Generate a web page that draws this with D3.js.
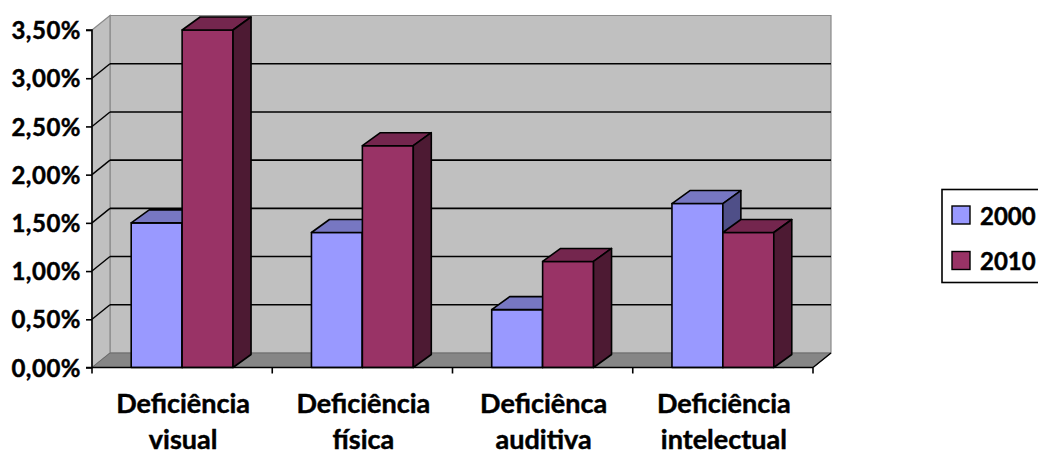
<!DOCTYPE html>
<html>
<head>
<meta charset="utf-8">
<script src="https://cdn.jsdelivr.net/npm/d3@7"></script>
<style>
  html, body { margin: 0; padding: 0; background: #fff; }
  svg { display: block; font-family: Lato, "Open Sans", sans-serif; font-weight: bold; }
  svg text { stroke: #000; stroke-width: 0.45px; paint-order: stroke; }
</style>
</head>
<body>
<svg id="chart" width="1038" height="455"></svg>
<script>
// Data
const categories = ["Deficiência visual", "Deficiência física", "Deficiênca auditiva", "Deficiência intelectual"];
const categoryLines = [["Deficiência", "visual"], ["Deficiência", "física"], ["Deficiênca", "auditiva"], ["Deficiência", "intelectual"]];
const seriesNames = ["2000", "2010"];
const values2000 = [1.5, 1.4, 0.6, 1.7];
const values2010 = [3.5, 2.3, 1.1, 1.4];
const yTicks = [0, 0.5, 1, 1.5, 2, 2.5, 3, 3.5];

const series = [
  { name: seriesNames[0], values: values2000, front: "#9999FF", top: "#7777C2", side: "#4F4F88" },
  { name: seriesNames[1], values: values2010, front: "#993366", top: "#74264E", side: "#4D1A33" }
];

const svg = d3.select("#chart");
const W = 1038, H = 455;
svg.append("rect").attr("width", W).attr("height", H).attr("fill", "#fff");

// Plot geometry (front plane) and 3D depth offsets
const x0 = 92, x1 = 813;
const y = d3.scaleLinear().domain([0, 3.5]).range([367.5, 30]);
const wallDx = 18, wallDy = -14.5;
const barDx = 18, barDy = -13;

const xCat = d3.scaleBand().domain(categories).range([x0, x1]).padding(0);
const xSer = d3.scaleBand().domain(seriesNames).range([0, xCat.bandwidth()]).paddingInner(0).paddingOuter(0.77);

const fmt = d3.formatLocale({ decimal: ",", thousands: ".", grouping: [3], currency: ["R$", ""] }).format(".2f");

const poly = pts => "M" + pts.map(p => p.join(",")).join("L") + "Z";

const g = svg.append("g");

// Back wall
const yTop = y(3.5), yBase = y(0);
g.append("path")
  .attr("d", poly([[x0 + wallDx, yTop + wallDy], [x1 + wallDx, yTop + wallDy], [x1 + wallDx, yBase + wallDy], [x0 + wallDx, yBase + wallDy]]))
  .attr("fill", "#C0C0C0").attr("stroke", "#8a8a8a").attr("stroke-width", 1.2);

// Side wall
g.append("path")
  .attr("d", poly([[x0, yTop], [x0 + wallDx, yTop + wallDy], [x0 + wallDx, yBase + wallDy], [x0, yBase]]))
  .attr("fill", "#C0C0C0").attr("stroke", "#8a8a8a").attr("stroke-width", 1.2);

// Floor
g.append("path")
  .attr("d", poly([[x0, yBase], [x0 + wallDx, yBase + wallDy], [x1 + wallDx, yBase + wallDy], [x1, yBase]]))
  .attr("fill", "#868686").attr("stroke", "#6a6a6a").attr("stroke-width", 1);

// Gridlines on back wall and side wall
const gridTicks = yTicks.filter(t => t > 0 && t < 3.5);
g.selectAll("line.grid-back").data(gridTicks).join("line")
  .attr("class", "grid-back")
  .attr("x1", x0 + wallDx).attr("x2", x1 + wallDx)
  .attr("y1", d => y(d) + wallDy).attr("y2", d => y(d) + wallDy)
  .attr("stroke", "#000").attr("stroke-width", 1.6);
g.selectAll("line.grid-side").data(gridTicks).join("line")
  .attr("class", "grid-side")
  .attr("x1", x0).attr("x2", x0 + wallDx)
  .attr("y1", d => y(d)).attr("y2", d => y(d) + wallDy)
  .attr("stroke", "#000").attr("stroke-width", 1.4);

// Floor right edge
g.append("line")
  .attr("x1", x1).attr("y1", yBase).attr("x2", x1 + wallDx).attr("y2", yBase + wallDy)
  .attr("stroke", "#000").attr("stroke-width", 1.4);

// Bars (drawn left to right so the nearer faces overlap correctly)
const bars = g.append("g");
categories.forEach((cat, i) => {
  series.forEach(s => {
    const v = s.values[i];
    const bx = xCat(cat) + xSer(s.name);
    const bw = xSer.bandwidth();
    const by = y(v);
    const bb = y(0);
    const bg = bars.append("g");
    bg.append("path")
      .attr("d", poly([[bx, by], [bx + bw, by], [bx + bw, bb], [bx, bb]]))
      .attr("fill", s.front);
    bg.append("path")
      .attr("d", poly([[bx, by], [bx + barDx, by + barDy], [bx + bw + barDx, by + barDy], [bx + bw, by]]))
      .attr("fill", s.top);
    bg.append("path")
      .attr("d", poly([[bx + bw, by], [bx + bw + barDx, by + barDy], [bx + bw + barDx, bb + barDy], [bx + bw, bb]]))
      .attr("fill", s.side);
    bg.selectAll("path").attr("stroke", "#000").attr("stroke-width", 1.6).attr("stroke-linejoin", "round");
  });
});

// Value axis
const yAxis = d3.axisLeft(y).tickValues(yTicks).tickSize(6).tickFormat(d => fmt(d) + "%");
const ya = svg.append("g").attr("transform", `translate(${x0},0)`).call(yAxis);
ya.select(".domain").attr("stroke", "#000").attr("stroke-width", 1.6).attr("d", `M-6,${y(3.5)}H0V${y(0)}H-6`);
ya.selectAll(".tick line").attr("stroke", "#000").attr("stroke-width", 1.6);
ya.selectAll(".tick text")
  .attr("x", -11).attr("dy", "0.36em")
  .attr("fill", "#000")
  .style("font-family", "Lato, 'Open Sans', sans-serif")
  .style("font-weight", "bold")
  .style("font-size", "24px")
  .style("letter-spacing", "0.5px");

// Category axis
const xAxis = d3.axisBottom(xCat).tickSize(0).tickFormat("");
const xa = svg.append("g").attr("transform", `translate(0,${yBase})`).call(xAxis);
xa.select(".domain").attr("stroke", "#000").attr("stroke-width", 1.6).attr("d", `M${x0},0H${x1}`);
const boundaries = categories.map(c => xCat(c)).concat([x1]);
xa.selectAll("line.cat-tick").data(boundaries).join("line")
  .attr("class", "cat-tick")
  .attr("x1", d => d).attr("x2", d => d)
  .attr("y1", 0).attr("y2", 6)
  .attr("stroke", "#000").attr("stroke-width", 1.6);

const labels = svg.append("g");
categories.forEach((cat, i) => {
  const cx = xCat(cat) + xCat.bandwidth() / 2 + 1;
  const t = labels.append("text")
    .attr("text-anchor", "middle")
    .attr("fill", "#000")
    .style("font-size", "27px");
  categoryLines[i].forEach((line, k) => {
    t.append("tspan").attr("x", cx).attr("y", 413 + k * 36).text(line);
  });
});

// Legend
const legend = svg.append("g");
legend.append("rect")
  .attr("x", 942).attr("y", 189.5).attr("width", 120).attr("height", 93)
  .attr("fill", "#fff").attr("stroke", "#000").attr("stroke-width", 1.6);
series.forEach((s, i) => {
  const ly = 206 + i * 45.5;
  legend.append("rect")
    .attr("x", 952).attr("y", ly).attr("width", 18).attr("height", 18)
    .attr("fill", s.front).attr("stroke", "#000").attr("stroke-width", 1.4);
  legend.append("text")
    .attr("x", 980).attr("y", ly + 18.5)
    .attr("fill", "#000")
    .style("font-size", "24px")
    .text(s.name);
});
</script>
</body>
</html>
